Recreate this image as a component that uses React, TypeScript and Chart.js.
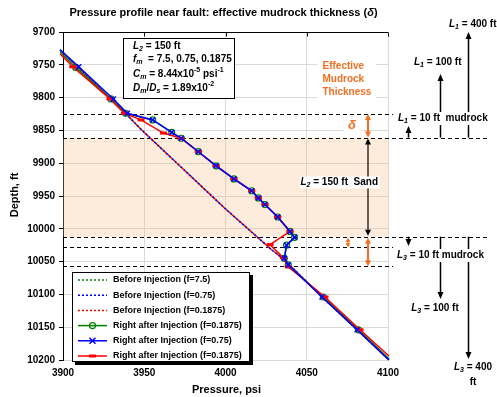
import React, { useEffect, useRef } from 'react';
import { Chart, registerables } from 'chart.js';

Chart.register(...registerables);

const FF = '"Liberation Sans", Arial, Helvetica, sans-serif';

const xMin = 3900;
const xMax = 4100;
const xStep = 50;
const yMin = 9700;
const yMax = 10200;
const yStep = 50;

// Before injection (hydrostatic) profiles
const beforeDepth = [9727, 9824, 9847, 9969, 10032, 10048, 10104, 10154, 10200];
const beforePressure = [3898.2, 3938.5, 3947.4, 3999.7, 4028.4, 4036.6, 4059.4, 4081, 4100.6];

// Right after injection, f = 7.5 (green)
const greenDepth = [9730, 9754, 9802, 9824, 9834, 9853, 9862, 9882.5, 9904, 9924, 9942, 9953, 9963, 9982, 10004, 10013, 10025, 10045, 10055, 10104, 10154, 10198];
const greenPressure = [3898.2, 3907.8, 3929.5, 3938.5, 3955.2, 3966.9, 3972.8, 3983.3, 3994.2, 4005.2, 4016.1, 4020.2, 4024.3, 4032.1, 4039.7, 4042.5, 4037.6, 4036.2, 4038.6, 4060.2, 4081.8, 4100.6];

// Right after injection, f = 0.75 (blue)
const blueDepth = [9727, 9753, 9802, 9824, 9834, 9853, 9862, 9882.5, 9904, 9924, 9942, 9953, 9963, 9982, 10004, 10013, 10025, 10045, 10055, 10104, 10154, 10200];
const bluePressure = [3898.2, 3909.7, 3931, 3939.5, 3955.2, 3966.9, 3972.8, 3983.3, 3994.2, 4005.2, 4016.1, 4020.2, 4024.3, 4032.1, 4039.7, 4042.5, 4037.6, 4036.2, 4038.6, 4059.4, 4081, 4100.6];

// Right after injection, f = 0.1875 (red)
const redDepth = [9733, 9753, 9802, 9824, 9834, 9854, 9862, 9882.5, 9904, 9924, 9942, 9953, 9963, 9982, 10004, 10024, 10044, 10058, 10104, 10154, 10194];
const redPressure = [3898.2, 3906, 3928.9, 3937.8, 3948, 3961.8, 3972.6, 3983.3, 3994.2, 4005.2, 4016.1, 4020.2, 4024.3, 4032.1, 4039.7, 4027.4, 4035.6, 4038.6, 4061.2, 4082.8, 4100.6];

const legendLabels = [
  'Before Injection (f=7.5)',
  'Before Injection (f=0.75)',
  'Before Injection (f=0.1875)',
  'Right after Injection (f=0.1875)',
  'Right after Injection (f=0.75)',
  'Right after Injection (f=0.1875)',
];

// Layer boundaries (depth, ft)
const sandTop = 9861;
const sandBottom = 10012;
const effectiveTop = 9825;
const lowerMarks = [10028, 10057];

const GREEN = '#008000';
const BLUE = '#0000FF';
const RED = '#FF0000';
const ORANGE = '#F26F21';

const zip = (p: number[], d: number[]) => p.map((v, i) => ({ x: v, y: d[i] }));

type Seg = [string, string?];

function rich(ctx: CanvasRenderingContext2D, segs: Seg[], x: number, y: number, size: number, align: string, color: string) {
  const font = (f: string, sz: number) => `${f.includes('i') ? 'italic ' : ''}bold ${sz}px ${FF}`;
  let w = 0;
  const parts = segs.map(([t, f = '']) => {
    const small = f.includes('b') || f.includes('p');
    const sz = small ? Math.round(size * 0.7) : size;
    ctx.font = font(f, sz);
    const mw = ctx.measureText(t).width;
    w += mw;
    return { t, f, sz, mw };
  });
  const start = align === 'left' ? x : align === 'center' ? x - w / 2 : x - w;
  let cx = start;
  ctx.fillStyle = color;
  ctx.textBaseline = 'middle';
  ctx.textAlign = 'left';
  for (const p of parts) {
    ctx.font = font(p.f, p.sz);
    const dy = p.f.includes('b') ? size * 0.3 : p.f.includes('p') ? -size * 0.35 : 0;
    ctx.fillText(p.t, cx, y + dy);
    cx += p.mw;
  }
  return { left: start, width: w };
}

function head(ctx: CanvasRenderingContext2D, x: number, tip: number, dir: number, hw: number, hl: number) {
  ctx.beginPath();
  ctx.moveTo(x, tip);
  ctx.lineTo(x - hw, tip - dir * hl);
  ctx.lineTo(x + hw, tip - dir * hl);
  ctx.closePath();
  ctx.fill();
}

function arrow(ctx: CanvasRenderingContext2D, x: number, y1: number, y2: number, color: string, lw: number, h1: boolean, h2: boolean, hw = 3, hl = 6) {
  ctx.save();
  ctx.setLineDash([]);
  ctx.strokeStyle = color;
  ctx.fillStyle = color;
  ctx.lineWidth = lw;
  const dir = Math.sign(y2 - y1);
  const s1 = h1 ? y1 + dir * hl * 0.8 : y1;
  const s2 = h2 ? y2 - dir * hl * 0.8 : y2;
  ctx.beginPath();
  ctx.moveTo(x, s1);
  ctx.lineTo(x, s2);
  ctx.stroke();
  if (h1) head(ctx, x, y1, -dir, hw, hl);
  if (h2) head(ctx, x, y2, dir, hw, hl);
  ctx.restore();
}

function marker(ctx: CanvasRenderingContext2D, kind: string, x: number, y: number, color: string) {
  ctx.save();
  ctx.setLineDash([]);
  ctx.strokeStyle = color;
  if (kind === 'circle') {
    ctx.lineWidth = 1.2;
    ctx.beginPath();
    ctx.arc(x, y, 3, 0, Math.PI * 2);
    ctx.stroke();
  } else if (kind === 'x') {
    ctx.lineWidth = 1.5;
    ctx.beginPath();
    ctx.moveTo(x - 3, y - 3);
    ctx.lineTo(x + 3, y + 3);
    ctx.moveTo(x + 3, y - 3);
    ctx.lineTo(x - 3, y + 3);
    ctx.stroke();
  } else if (kind === 'dash') {
    ctx.lineWidth = 3;
    ctx.beginPath();
    ctx.moveTo(x - 3.5, y);
    ctx.lineTo(x + 3.5, y);
    ctx.stroke();
  }
  ctx.restore();
}

const annot = {
  id: 'annot',
  beforeDatasetsDraw(chart: any) {
    const { ctx, chartArea: ca, scales } = chart;
    const y = scales.y;
    ctx.save();
    const yt = y.getPixelForValue(sandTop);
    const yb = y.getPixelForValue(sandBottom);
    ctx.fillStyle = 'rgba(250,190,140,0.3)';
    ctx.fillRect(ca.left, yt, ca.right - ca.left, yb - yt);
    ctx.strokeStyle = '#000';
    ctx.lineWidth = 1.2;
    ctx.setLineDash([4, 3]);
    const lines: [number, number][] = [
      [effectiveTop, 393],
      [sandTop, 490],
      [sandBottom, 490],
      [lowerMarks[0], 393],
      [lowerMarks[1], 393],
    ];
    for (const [d, xe] of lines) {
      const yy = Math.round(y.getPixelForValue(d)) + 0.5;
      ctx.beginPath();
      ctx.moveTo(ca.left, yy);
      ctx.lineTo(xe, yy);
      ctx.stroke();
    }
    ctx.restore();
  },
  afterDraw(chart: any) {
    const { ctx, chartArea: ca, scales } = chart;
    const xs = scales.x;
    const ys = scales.y;
    ctx.save();
    ctx.setLineDash([]);

    // top axis line with inward ticks
    const ty = Math.round(ca.top) + 0.5;
    ctx.strokeStyle = '#000';
    ctx.lineWidth = 1;
    ctx.beginPath();
    ctx.moveTo(ca.left, ty);
    ctx.lineTo(ca.right, ty);
    for (let v = xMin; v <= xMax; v += xStep) {
      const px = Math.round(xs.getPixelForValue(v)) + 0.5;
      ctx.moveTo(px, ty);
      ctx.lineTo(px, ty + 4);
    }
    ctx.stroke();

    // Title
    rich(ctx, [['Pressure profile near fault: effective mudrock thickness ('], ['\u03B4', 'i'], [')']], 223.5, 13, 11, 'center', '#000');

    // Axis titles
    ctx.fillStyle = '#000';
    ctx.font = `bold 11px ${FF}`;
    ctx.textAlign = 'center';
    ctx.textBaseline = 'middle';
    ctx.fillText('Pressure, psi', 226.5, 389.5);
    ctx.save();
    ctx.translate(15, 195);
    ctx.rotate(-Math.PI / 2);
    ctx.fillText('Depth, ft', 0, 0);
    ctx.restore();

    // Parameter box
    ctx.fillStyle = '#fff';
    ctx.fillRect(123.5, 38.5, 111, 60);
    ctx.strokeStyle = '#000';
    ctx.lineWidth = 1;
    ctx.strokeRect(123.5, 38.5, 111, 60);
    rich(ctx, [['L', 'i'], ['2', 'ib'], [' = 150 ft']], 133, 46, 10, 'left', '#000');
    rich(ctx, [['f', 'i'], ['m', 'ib'], ['  = 7.5, 0.75, 0.1875']], 133, 59.5, 10, 'left', '#000');
    rich(ctx, [['C', 'i'], ['m', 'ib'], [' = 8.44x10'], ['-5', 'p'], [' psi'], ['-1', 'p']], 133, 74, 10, 'left', '#000');
    rich(ctx, [['D', 'i'], ['m', 'ib'], ['/'], ['D', 'i'], ['s', 'ib'], [' = 1.89x10'], ['-2', 'p']], 133, 88, 10, 'left', '#000');

    // Legend
    ctx.fillStyle = '#000';
    ctx.fillRect(75, 275, 178, 90);
    ctx.fillStyle = '#fff';
    ctx.fillRect(72, 272, 178, 90);
    ctx.strokeStyle = '#000';
    ctx.lineWidth = 1;
    ctx.strokeRect(72.5, 272.5, 177, 89);
    const legColors = [GREEN, BLUE, RED, GREEN, BLUE, RED];
    const legMarks = ['', '', '', 'circle', 'x', 'dash'];
    legendLabels.forEach((lab, i) => {
      const yy = 280 + i * 15.2;
      ctx.save();
      ctx.strokeStyle = legColors[i];
      ctx.lineWidth = 1.5;
      ctx.setLineDash(i < 3 ? [2, 2] : []);
      ctx.beginPath();
      ctx.moveTo(78, yy);
      ctx.lineTo(107, yy);
      ctx.stroke();
      ctx.restore();
      if (legMarks[i]) marker(ctx, legMarks[i], 92.5, yy, legColors[i]);
      ctx.fillStyle = '#000';
      ctx.font = `bold 9px ${FF}`;
      ctx.textAlign = 'left';
      ctx.textBaseline = 'middle';
      ctx.fillText(lab, 113, yy);
    });

    // Orange "Effective Mudrock Thickness"
    ctx.fillStyle = '#fff';
    ctx.fillRect(317, 58, 59, 42);
    ctx.fillStyle = ORANGE;
    ctx.font = `bold 10px ${FF}`;
    ctx.textAlign = 'left';
    ctx.textBaseline = 'middle';
    ctx.fillText('Effective', 322.5, 66.7);
    ctx.fillText('Mudrock', 322.5, 79.3);
    ctx.fillText('Thickness', 322.5, 92.3);

    const pEff = ys.getPixelForValue(effectiveTop);
    const pTop = ys.getPixelForValue(sandTop);
    const pBot = ys.getPixelForValue(sandBottom);
    const pM1 = ys.getPixelForValue(lowerMarks[0]);
    const pM2 = ys.getPixelForValue(lowerMarks[1]);

    // delta label
    ctx.fillStyle = '#fff';
    ctx.fillRect(344, 118, 17, 15);
    rich(ctx, [['\u03B4', 'i']], 352, 125.5, 13, 'center', ORANGE);

    // in-plot arrows
    arrow(ctx, 368, pEff, pTop, ORANGE, 2, true, true, 3, 6);
    arrow(ctx, 368, pTop + 1, pBot - 1, '#000', 1.2, true, true, 3, 6);
    arrow(ctx, 368, pBot + 1, pM2, ORANGE, 2, true, true, 3, 6);
    arrow(ctx, 348, pBot + 1, pM1, ORANGE, 1.5, true, true, 2.5, 4);

    // L2 label
    ctx.fillStyle = '#fff';
    ctx.fillRect(300, 176.5, 80, 12);
    rich(ctx, [['L', 'i'], ['2', 'ib'], [' = 150 ft  Sand']], 378, 182.5, 10, 'right', '#000');

    // Right side arrows (upward, L1)
    arrow(ctx, 408.5, pTop, 126, '#000', 1.5, false, true, 3, 7);
    arrow(ctx, 440.5, pTop, 74, '#000', 1.5, false, true, 3, 7);
    arrow(ctx, 468.5, pTop, 32, '#000', 1.5, false, true, 3, 7);
    // downward, L3
    arrow(ctx, 408.5, pBot, 246, '#000', 1.5, false, true, 3, 7);
    arrow(ctx, 440.5, pBot, 299, '#000', 1.5, false, true, 3, 7);
    arrow(ctx, 468.5, pBot, 359, '#000', 1.5, false, true, 3, 7);

    ctx.fillStyle = '#fff';
    ctx.fillRect(396, 112, 96, 13);
    rich(ctx, [['L', 'i'], ['1', 'ib'], [' = 10 ft  mudrock']], 398, 118, 10, 'left', '#000');
    ctx.fillStyle = '#fff';
    ctx.fillRect(395, 249, 95, 13);
    rich(ctx, [['L', 'i'], ['3', 'ib'], [' = 10 ft mudrock']], 397, 255, 10, 'left', '#000');

    rich(ctx, [['L', 'i'], ['1', 'ib'], [' = 100 ft']], 414, 62, 10, 'left', '#000');
    rich(ctx, [['L', 'i'], ['1', 'ib'], [' = 400 ft']], 449, 24, 10, 'left', '#000');
    rich(ctx, [['L', 'i'], ['3', 'ib'], [' = 100 ft']], 435, 308, 10, 'center', '#000');
    rich(ctx, [['L', 'i'], ['3', 'ib'], [' = 400']], 473, 367.5, 10, 'center', '#000');
    rich(ctx, [['ft']], 473, 382, 10, 'center', '#000');

    ctx.restore();
  },
};

export default function App() {
  const ref = useRef<HTMLCanvasElement | null>(null);
  useEffect(() => {
    if (!ref.current) return;
    const endless = (n: number, r: number) => (c: any) => (c.dataIndex === 0 || c.dataIndex === n - 1 ? 0 : r);
    const chart = new Chart(ref.current, {
      type: 'scatter',
      data: {
        datasets: [
          {
            label: legendLabels[4],
            data: zip(bluePressure, blueDepth),
            showLine: true,
            borderColor: BLUE,
            borderWidth: 1.5,
            pointStyle: 'crossRot',
            pointRadius: endless(blueDepth.length, 3.5),
            pointBorderWidth: 1.5,
            pointBorderColor: BLUE,
            clip: false,
            order: 1,
          },
          {
            label: legendLabels[5],
            data: zip(redPressure, redDepth),
            showLine: true,
            borderColor: RED,
            borderWidth: 1.5,
            pointStyle: 'line',
            pointRadius: endless(redDepth.length, 3.5),
            pointBorderWidth: 3,
            pointBorderColor: RED,
            pointBackgroundColor: RED,
            clip: false,
            order: 2,
          },
          {
            label: legendLabels[3],
            data: zip(greenPressure, greenDepth),
            showLine: true,
            borderColor: GREEN,
            borderWidth: 1.5,
            pointStyle: 'circle',
            pointRadius: endless(greenDepth.length, 3),
            pointBorderWidth: 1.2,
            pointBorderColor: GREEN,
            pointBackgroundColor: 'rgba(0,0,0,0)',
            clip: false,
            order: 3,
          },
          {
            label: legendLabels[2],
            data: zip(beforePressure, beforeDepth),
            showLine: true,
            borderColor: RED,
            borderWidth: 1.5,
            borderDash: [2, 2],
            borderDashOffset: 2,
            pointRadius: 0,
            clip: false,
            order: 4,
          },
          {
            label: legendLabels[1],
            data: zip(beforePressure, beforeDepth),
            showLine: true,
            borderColor: BLUE,
            borderWidth: 1.5,
            borderDash: [2, 2],
            pointRadius: 0,
            clip: false,
            order: 5,
          },
          {
            label: legendLabels[0],
            data: zip(beforePressure, beforeDepth),
            showLine: true,
            borderColor: GREEN,
            borderWidth: 1.5,
            borderDash: [2, 2],
            pointRadius: 0,
            clip: false,
            order: 6,
          },
        ],
      },
      options: {
        responsive: false,
        devicePixelRatio: 1,
        animation: false,
        events: [],
        layout: { padding: { top: 32, right: 109, left: 0, bottom: 0 } },
        plugins: {
          legend: { display: false },
          tooltip: { enabled: false },
          title: { display: false },
        },
        scales: {
          x: {
            type: 'linear',
            position: 'bottom',
            min: xMin,
            max: xMax,
            ticks: {
              stepSize: xStep,
              color: '#000',
              font: { family: FF, size: 10, weight: 'bold' },
              padding: 7,
              maxRotation: 0,
              callback: (v: any) => String(v),
            },
            grid: { color: '#d9d9d9', lineWidth: 1, drawTicks: false },
            border: { display: false },
            afterFit: (s: any) => {
              s.height = 37;
            },
          },
          y: {
            type: 'linear',
            reverse: true,
            min: yMin,
            max: yMax,
            ticks: {
              stepSize: yStep,
              color: '#000',
              font: { family: FF, size: 10, weight: 'bold' },
              padding: 4,
              callback: (v: any) => String(v),
            },
            grid: { color: '#d9d9d9', lineWidth: 1, tickLength: 4, tickColor: '#000' },
            border: { display: true, color: '#000', width: 1 },
            afterFit: (s: any) => {
              s.width = 63;
            },
          },
        },
      },
      plugins: [annot],
    } as any);
    return () => chart.destroy();
  }, []);
  return (
    <div style={{ position: 'absolute', left: 0, top: 0, width: 497, height: 397, background: '#fff' }}>
      <canvas ref={ref} width={497} height={397} style={{ display: 'block' }} />
    </div>
  );
}
